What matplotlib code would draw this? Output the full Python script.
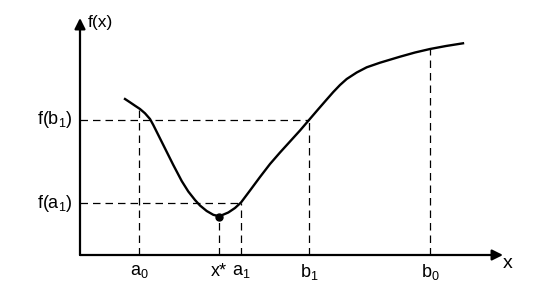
import matplotlib.pyplot as plt

plt.rcParams['font.family'] = ['Liberation Sans', 'DejaVu Sans']
plt.rcParams['mathtext.default'] = 'regular'

# curve f(x) (units: axis origin = 0)
xs = [4.5, 5.0, 5.5, 6.0, 6.5, 7.0, 7.33, 7.83, 8.33, 8.83, 9.33, 9.83, 10.17,
      10.83, 11.5, 12.0, 12.67, 13.33, 13.93, 14.83, 15.5, 16.1, 17.0, 18.0,
      19.0, 20.0, 21.0, 22.0, 22.9, 23.8, 24.67, 25.33, 26.0, 26.67, 27.67,
      28.67, 30.0, 32.0, 33.5, 35.0, 36.6, 38.3]
fx = [15.6, 15.27, 14.93, 14.6, 14.17, 13.6, 13.0, 12.0, 11.0, 10.0, 9.0, 8.05,
      7.4, 6.35, 5.5, 4.95, 4.4, 4.02, 3.87, 4.25, 4.7, 5.25, 6.45, 7.8,
      9.1, 10.25, 11.35, 12.45, 13.5, 14.55, 15.55, 16.3, 17.0, 17.6, 18.25,
      18.77, 19.23, 19.83, 20.25, 20.6, 20.9, 21.17]

# marked points on the x axis and their function values
tick_labels = ['$a_0$', 'x*', '$a_1$', '$b_1$', '$b_0$']
tick_x = [5.9, 13.9, 16.1, 22.9, 35.0]
tick_f = [14.65, 3.85, 5.2, 13.5, 20.6]

# horizontal guides
hlabels = ['$f(b_1)$', '$f(a_1)$']
h_y = [13.5, 5.2]
h_end = [22.9, 16.1]

x_max = 42.3
y_max = 23.7

fig = plt.figure(figsize=(5.41, 2.85), dpi=100)
ax = fig.add_axes([0, 0, 1, 1])
ax.set_xlim(-8.0, 46.1)
ax.set_ylim(-3.0, 25.5)
ax.axis('off')

# axes with arrows
arrow = dict(arrowstyle='-|>', lw=1.6, color='black', mutation_scale=16,
             shrinkA=0, shrinkB=0)
ax.annotate('', xy=(x_max, 0), xytext=(0, 0), arrowprops=arrow)
ax.annotate('', xy=(0, y_max), xytext=(0, 0), arrowprops=arrow)

dash = dict(color='black', lw=0.9, dashes=(6, 4))
for x, f in zip(tick_x, tick_f):
    ax.plot([x, x], [0, f], **dash)
for y, xe in zip(h_y, h_end):
    ax.plot([0, xe], [y, y], **dash)

ax.plot(xs, fx, color='black', lw=1.7, solid_joinstyle='round')
ax.plot(tick_x[1], tick_f[1], 'o', color='black', ms=5)

for lab, x in zip(tick_labels, tick_x):
    ax.text(x, -1.7, lab, ha='center', va='center', fontsize=13)
for lab, y in zip(hlabels, h_y):
    ax.text(-0.7, y, lab, ha='right', va='center', fontsize=13)

ax.text(0.8, 23.3, 'f(x)', ha='left', va='center', fontsize=12.5)
ax.text(42.8, -0.8, 'x', ha='center', va='center', fontsize=14)

fig.savefig('out.png', dpi=100)
